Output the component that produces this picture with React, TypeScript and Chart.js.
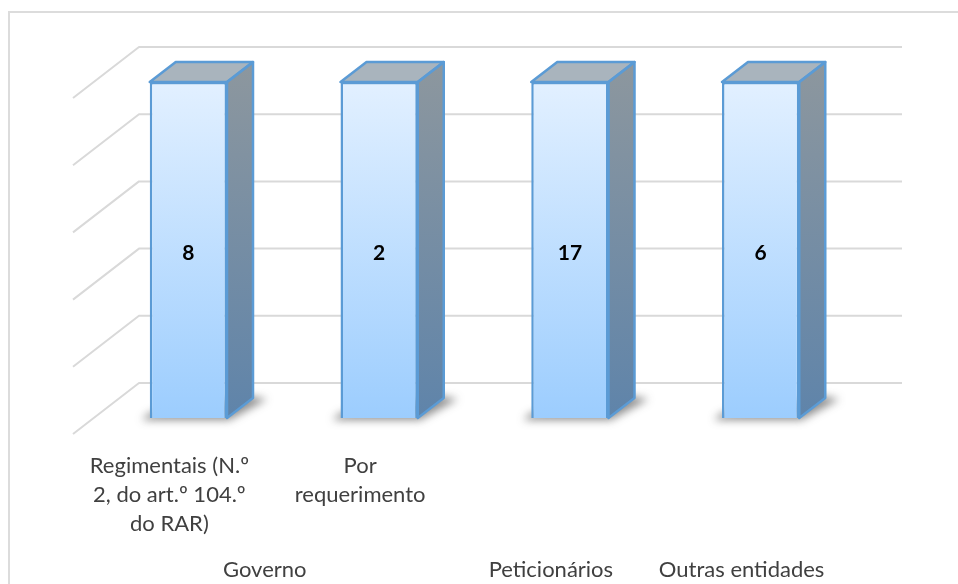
import React, { useEffect, useRef } from "react";
import { Chart, registerables } from "chart.js";

Chart.register(...registerables);

const categories = [
  ["Regimentais (N.º", "2, do art.º 104.º", "do RAR)"],
  ["Por", "requerimento"],
  [""],
  [""],
];
const groupLabels = ["Governo", "Peticionários", "Outras entidades"];
const groupPositions = [1, 2.5, 3.5];
const shares = [100, 100, 100, 100];
const counts = [8, 2, 17, 6];

const FONT = "Lato, Carlito, 'Open Sans', sans-serif";
const BAR_DX = 26;
const BAR_DY = -20;
const FRONT_DX = -20;
const FRONT_DY = 16;
const BACK_DX = 46;
const BACK_DY = -35;
const EDGE = "#5b9bd5";
const GRID = "#d9d9d9";

const poly = (ctx: CanvasRenderingContext2D, pts: number[][]) => {
  ctx.beginPath();
  pts.forEach(([x, y], i) => (i ? ctx.lineTo(x, y) : ctx.moveTo(x, y)));
  ctx.closePath();
};

const frame3d = {
  id: "frame3d",
  beforeDatasetsDraw(chart: any) {
    const { ctx, chartArea: a } = chart;
    const y = chart.scales.y;
    ctx.save();
    // Outer chart frame
    ctx.strokeStyle = "#dcdcdc";
    ctx.lineWidth = 2;
    ctx.beginPath();
    ctx.moveTo(9, chart.height);
    ctx.lineTo(9, 12);
    ctx.lineTo(chart.width, 12);
    ctx.stroke();
    // Floor-and-wall gridlines
    ctx.strokeStyle = GRID;
    ctx.lineWidth = 2;
    ctx.lineJoin = "round";
    y.ticks.forEach((t: any) => {
      const py = y.getPixelForValue(t.value);
      ctx.beginPath();
      ctx.moveTo(a.left + FRONT_DX, py + FRONT_DY);
      ctx.lineTo(a.left + BACK_DX, py + BACK_DY);
      ctx.lineTo(a.right + BACK_DX, py + BACK_DY);
      ctx.stroke();
    });
    // Bar depth faces
    chart.getDatasetMeta(0).data.forEach((bar: any) => {
      const l = bar.x - bar.width / 2;
      const r = bar.x + bar.width / 2;
      const t = bar.y;
      const b = bar.base;
      // Cast shadow on the floor
      ctx.save();
      ctx.filter = "blur(4px)";
      ctx.fillStyle = "rgba(50,50,50,0.55)";
      poly(ctx, [
        [l - 8, b + 2],
        [r + 2, b + 2],
        [r + BAR_DX + 14, b + BAR_DY + 1],
        [r + BAR_DX - 4, b + BAR_DY - 2],
        [l, b - 5],
      ]);
      ctx.fill();
      ctx.restore();
      // Side face
      const side = ctx.createLinearGradient(0, t + BAR_DY, 0, b);
      side.addColorStop(0, "#8d979e");
      side.addColorStop(1, "#5f84aa");
      ctx.fillStyle = side;
      poly(ctx, [
        [r, t],
        [r + BAR_DX, t + BAR_DY],
        [r + BAR_DX, b + BAR_DY],
        [r, b],
      ]);
      ctx.fill();
      // Top face
      ctx.fillStyle = "#a9b4bd";
      poly(ctx, [
        [l, t],
        [l + BAR_DX, t + BAR_DY],
        [r + BAR_DX, t + BAR_DY],
        [r, t],
      ]);
      ctx.fill();
      ctx.strokeStyle = EDGE;
      ctx.lineWidth = 2.5;
      ctx.stroke();
      poly(ctx, [
        [r, t],
        [r + BAR_DX, t + BAR_DY],
        [r + BAR_DX, b + BAR_DY],
        [r, b],
      ]);
      ctx.stroke();
    });
    ctx.restore();
  },
  afterDatasetsDraw(chart: any) {
    const { ctx } = chart;
    ctx.save();
    ctx.fillStyle = "#000000";
    ctx.font = `bold 21px ${FONT}`;
    ctx.textAlign = "center";
    ctx.textBaseline = "middle";
    chart.getDatasetMeta(0).data.forEach((bar: any, i: number) => {
      ctx.fillText(String(counts[i]), bar.x, (bar.y + bar.base) / 2 + 3);
    });
    ctx.restore();
  },
};

export default function App() {
  const ref = useRef<HTMLCanvasElement>(null);
  useEffect(() => {
    const chart = new Chart(ref.current as HTMLCanvasElement, {
      type: "bar",
      plugins: [frame3d],
      data: {
        labels: categories,
        datasets: [
          {
            data: shares,
            borderColor: EDGE,
            borderWidth: 2.5,
            clip: false,
            categoryPercentage: 1,
            barPercentage: 0.405,
            backgroundColor: (c: any) => {
              const a = c.chart.chartArea;
              if (!a) return "#c0e0ff";
              const g = c.chart.ctx.createLinearGradient(0, a.top, 0, a.bottom);
              g.addColorStop(0, "#e2f0ff");
              g.addColorStop(1, "#9ccdfe");
              return g;
            },
          },
        ],
      },
      options: {
        animation: false,
        responsive: false,
        layout: { padding: { left: 93, right: 102, top: 82, bottom: 0 } },
        plugins: { legend: { display: false }, tooltip: { enabled: false } },
        scales: {
          y: {
            display: false,
            min: 0,
            max: 100,
            ticks: { stepSize: 20 },
          },
          x: {
            weight: 1,
            grid: { display: false, drawTicks: false },
            border: { display: false },
            afterFit: (s: any) => {
              s.height = 126;
            },
            ticks: {
              autoSkip: false,
              maxRotation: 0,
              padding: 33,
              labelOffset: -19,
              color: "#404040",
              font: { family: FONT, size: 22, lineHeight: 1.32 },
            },
          },
          x2: {
            type: "linear",
            position: "bottom",
            offset: false,
            weight: 2,
            min: 0,
            max: 4,
            grid: { display: false, drawTicks: false, offset: false },
            border: { display: false },
            afterFit: (s: any) => {
              s.height = 40;
            },
            afterBuildTicks: (s: any) => {
              s.ticks = groupPositions.map((value) => ({ value }));
            },
            ticks: {
              autoSkip: false,
              maxRotation: 0,
              padding: 13,
              labelOffset: -19,
              color: "#404040",
              font: { family: FONT, size: 22 },
              callback: (_v: any, i: number) => groupLabels[i],
            },
          },
        },
      } as any,
    });
    return () => chart.destroy();
  }, []);
  return (
    <canvas
      ref={ref}
      width={958}
      height={584}
      style={{ position: "absolute", left: 0, top: 0, width: 958, height: 584 }}
    />
  );
}
